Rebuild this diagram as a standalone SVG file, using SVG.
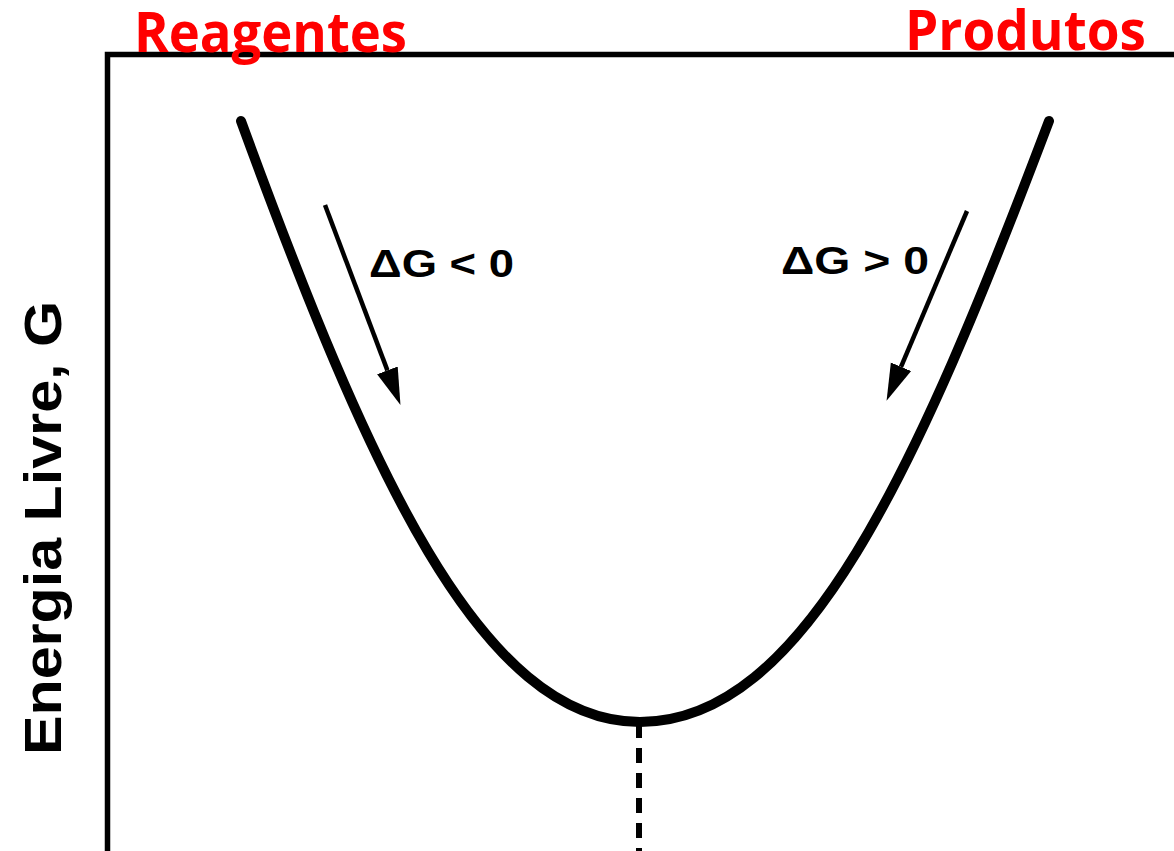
<svg xmlns="http://www.w3.org/2000/svg" width="1174" height="851" viewBox="0 0 1174 851">
  <style>
    .red { font-family: "Open Sans", "Noto Sans", "Liberation Sans", sans-serif; font-weight: bold; font-size: 55px; fill: #ff0000; }
    .lbl { font-family: "Liberation Sans", Arial, sans-serif; font-weight: bold; fill: #000; }
    .thin { stroke: #000; stroke-width: 4.5; fill: none; }
  </style>
  <defs>
    <marker id="ah" markerUnits="userSpaceOnUse" markerWidth="40" markerHeight="26" viewBox="0 -13 40 26" refX="0" refY="0" orient="auto">
      <path d="M0,-11 L37,0 L0,11 z" fill="#000"/>
    </marker>
  </defs>
  <rect width="1174" height="851" fill="#fff"/>

  <g id="frame">
    <path d="M107.5,851 V54.5 H1174" fill="none" stroke="#000" stroke-width="5.5" stroke-linejoin="miter"/>
  </g>

  <g id="curve">
    <path d="M241,121 C368,468 480,722 640,722 C804,722 917,470 1049,121" fill="none" stroke="#000" stroke-width="10" stroke-linecap="round"/>
  </g>

  <g id="connectors">
    <line x1="639" y1="723" x2="639" y2="851" stroke="#000" stroke-width="6" stroke-dasharray="15 10"/>
    <line class="thin" x1="325" y1="205" x2="387.4" y2="370.4" marker-end="url(#ah)"/>
    <line class="thin" x1="967" y1="211" x2="901" y2="366.8" marker-end="url(#ah)"/>
  </g>

  <g id="reagentes">
    <text class="red" x="134" y="52" textLength="273" lengthAdjust="spacingAndGlyphs">Reagentes</text>
  </g>
  <g id="produtos">
    <text class="red" x="905" y="49.5" textLength="241" lengthAdjust="spacingAndGlyphs">Produtos</text>
  </g>

  <g id="dg-neg">
    <text class="lbl" x="369" y="277" font-size="38" textLength="145" lengthAdjust="spacingAndGlyphs">ΔG &lt; 0</text>
  </g>
  <g id="dg-pos">
    <text class="lbl" x="781" y="274" font-size="38" textLength="148" lengthAdjust="spacingAndGlyphs">ΔG &gt; 0</text>
  </g>

  <g id="y-axis-label">
    <text class="lbl" transform="translate(61,755) rotate(-90)" x="0" y="0" font-size="51" textLength="454" lengthAdjust="spacingAndGlyphs">Energia Livre, G</text>
  </g>
</svg>
